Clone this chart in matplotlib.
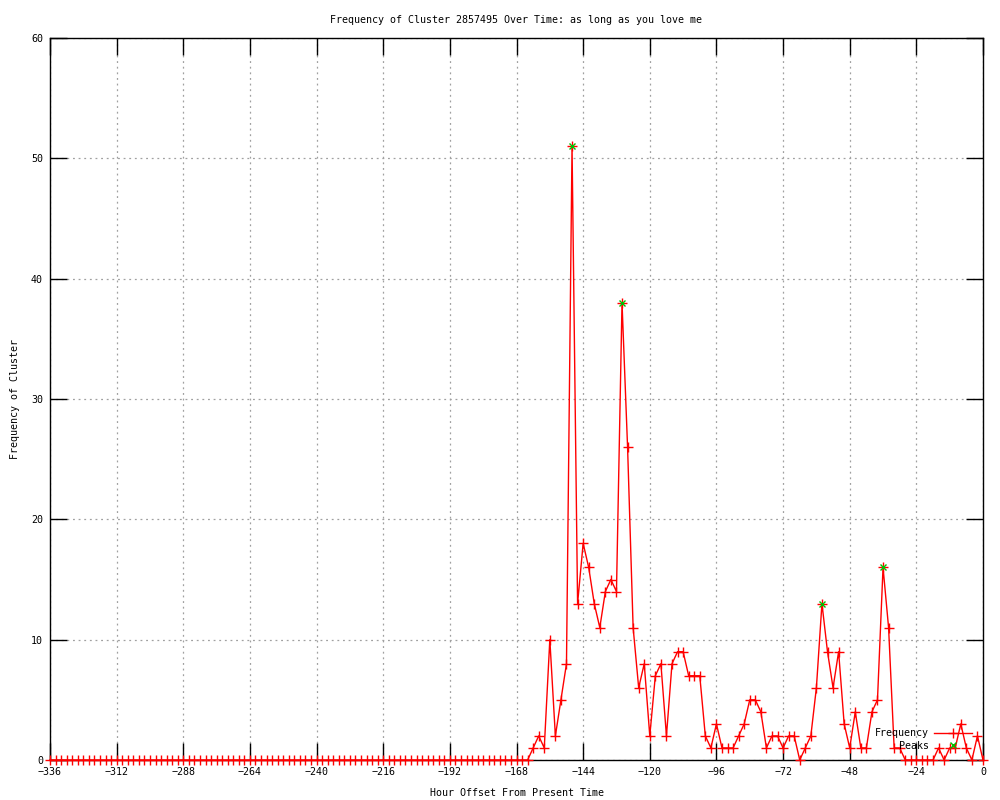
import matplotlib
matplotlib.use("Agg")
import matplotlib.pyplot as plt

plt.rcParams['font.family'] = ['DejaVu Sans Mono']

title = "Frequency of Cluster 2857495 Over Time: as long as you love me"
x_label = "Hour Offset From Present Time"
y_label = "Frequency of Cluster"

hours = list(range(-336, 1, 2))
frequency = [
    # -336 .. -164
    0, 0, 0, 0, 0, 0, 0, 0, 0, 0, 0, 0, 0, 0, 0, 0, 0, 0, 0, 0,
    0, 0, 0, 0, 0, 0, 0, 0, 0, 0, 0, 0, 0, 0, 0, 0, 0, 0, 0, 0,
    0, 0, 0, 0, 0, 0, 0, 0, 0, 0, 0, 0, 0, 0, 0, 0, 0, 0, 0, 0,
    0, 0, 0, 0, 0, 0, 0, 0, 0, 0, 0, 0, 0, 0, 0, 0, 0, 0, 0, 0,
    0, 0, 0, 0, 0, 0, 0,
    # -162 .. -100
    1, 2, 1, 10, 2, 5, 8, 51, 13, 18, 16, 13, 11, 14, 15, 14, 38, 26, 11, 6,
    8, 2, 7, 8, 2, 8, 9, 9, 7, 7, 7, 2,
    # -98 .. -68
    1, 3, 1, 1, 1, 2, 3, 5, 5, 4, 1, 2, 2, 1, 2, 2,
    # -66 .. -36
    0, 1, 2, 6, 13, 9, 6, 9, 3, 1, 4, 1, 1, 4, 5, 16,
    # -34 .. 0
    11, 1, 1, 0, 0, 0, 0, 0, 0, 1, 0, 1, 1, 3, 1, 0, 2, 0,
]

peak_hours = [-148, -130, -58, -36]
peak_values = [51, 38, 13, 16]

x_ticks = list(range(-336, 1, 24))
y_ticks = list(range(0, 61, 10))

FS = 7.2

fig = plt.figure(figsize=(10, 8), dpi=100)
ax = fig.add_axes([0.05, 0.05, 0.933, 0.9025])

ax.plot(hours, frequency, color='#ff0000', linewidth=1, marker='+',
        markersize=7, markeredgewidth=1, label='Frequency', clip_on=False,
        zorder=3)
ax.plot(peak_hours, peak_values, linestyle='none', marker='x',
        color='#00c000', markersize=5, markeredgewidth=1, label='Peaks',
        clip_on=False, zorder=4)

ax.set_xlim(-336, 0)
ax.set_ylim(0, 60)
ax.set_xticks(x_ticks)
ax.set_yticks(y_ticks)
ax.tick_params(direction='in', length=12, width=1, top=True, right=True,
               labelsize=FS, pad=5, colors='black')
ax.grid(True, color='#a0a0a0', linestyle=(0, (1.5, 3)), linewidth=0.9)
for s in ax.spines.values():
    s.set_linewidth(1)
    s.set_color('black')

ax.set_title(title, fontsize=FS, pad=11)
ax.set_xlabel(x_label, fontsize=FS, labelpad=8)
ax.set_ylabel(y_label, fontsize=FS, labelpad=8)

ax.legend(loc='lower right', bbox_to_anchor=(0.988, 0.013), frameon=False,
          markerfirst=False, fontsize=FS, borderaxespad=0, borderpad=0,
          labelspacing=0.25, handlelength=3.8, handletextpad=0.5)

fig.savefig('out.png', dpi=100)
